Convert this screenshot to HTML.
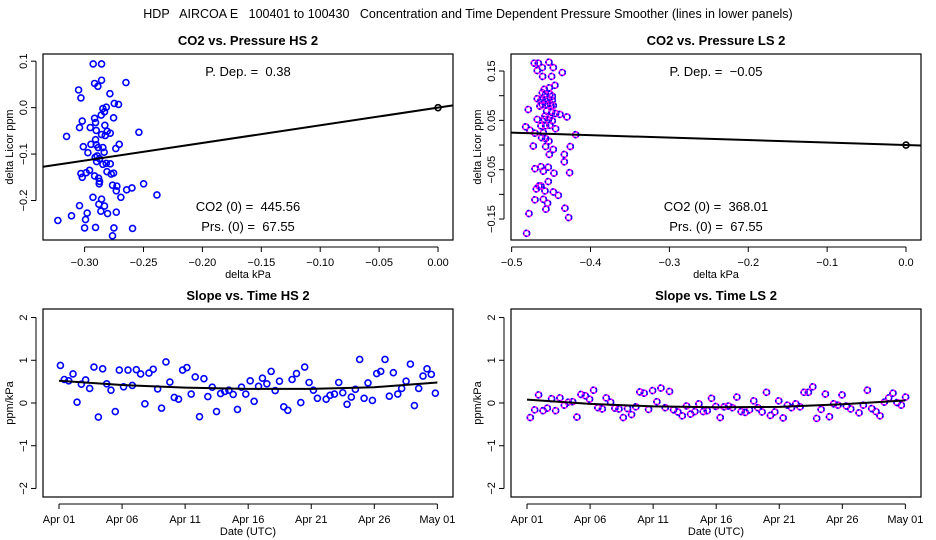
<!DOCTYPE html>
<html><head><meta charset="utf-8"><style>
body{margin:0;background:#fff;}
svg{display:block;font-family:"Liberation Sans",sans-serif;}
text{white-space:pre;}
</style></head><body>
<svg id="chart" width="936" height="540" xmlns="http://www.w3.org/2000/svg">
<rect width="936" height="540" fill="#fff"/>
<text x="468" y="18" text-anchor="middle" font-size="12.5" xml:space="preserve">HDP   AIRCOA E   100401 to 100430   Concentration and Time Dependent Pressure Smoother (lines in lower panels)</text>
</svg>
<script>
// ---- Panel data ----
const hsKpa=[-0.2927,-0.2856,-0.2915,-0.2887,-0.2856,-0.2649,-0.3051,-0.3031,-0.2785,-0.2748,-0.2712,-0.2816,-0.2845,-0.2831,-0.2859,-0.2754,-0.2915,-0.3020,-0.2907,-0.2828,-0.3043,-0.2952,-0.2901,-0.2808,-0.2539,-0.2782,-0.2856,-0.2825,-0.3153,-0.2907,-0.2946,-0.2706,-0.2901,-0.3011,-0.2884,-0.2845,-0.2735,-0.2834,-0.2972,-0.2893,-0.2910,-0.2873,-0.2898,-0.2845,-0.2782,-0.2816,-0.2810,-0.2774,-0.2754,-0.2958,-0.2986,-0.3031,-0.3020,-0.2915,-0.2881,-0.2873,-0.2876,-0.2763,-0.2726,-0.2731,-0.2643,-0.2598,-0.2499,-0.2386,-0.2692,-0.2929,-0.2856,-0.3043,-0.2879,-0.2831,-0.2862,-0.2978,-0.2805,-0.2731,-0.3111,-0.2992,-0.3227,-0.3000,-0.2907,-0.2751,-0.2593,-0.2763];
const hsPpm=[0.094,0.094,0.052,0.046,0.059,0.054,0.038,0.021,0.030,0.009,0.007,0.001,-0.002,-0.009,-0.016,-0.022,-0.023,-0.029,-0.032,-0.038,-0.043,-0.043,-0.049,-0.051,-0.053,-0.055,-0.058,-0.060,-0.062,-0.069,-0.079,-0.079,-0.080,-0.084,-0.086,-0.086,-0.088,-0.096,-0.097,-0.104,-0.107,-0.110,-0.116,-0.122,-0.121,-0.120,-0.138,-0.143,-0.141,-0.135,-0.140,-0.142,-0.150,-0.147,-0.152,-0.159,-0.164,-0.167,-0.169,-0.179,-0.177,-0.173,-0.164,-0.188,-0.193,-0.193,-0.197,-0.211,-0.208,-0.212,-0.223,-0.227,-0.228,-0.225,-0.233,-0.241,-0.243,-0.259,-0.258,-0.259,-0.260,-0.276];
const lsKpa=[-0.4713,-0.4662,-0.4527,-0.4611,-0.4472,-0.4675,-0.4358,-0.4607,-0.4493,-0.4451,-0.4522,-0.4611,-0.4569,-0.4514,-0.4484,-0.4675,-0.4628,-0.4577,-0.4535,-0.4484,-0.4611,-0.4556,-0.4510,-0.4472,-0.4789,-0.4556,-0.4493,-0.4442,-0.4577,-0.4514,-0.4387,-0.4298,-0.4675,-0.4586,-0.4535,-0.4484,-0.4628,-0.4569,-0.4514,-0.4822,-0.4442,-0.4768,-0.4704,-0.4598,-0.4188,-0.4620,-0.4569,-0.4527,-0.4725,-0.4569,-0.4256,-0.4472,-0.4522,-0.4332,-0.4332,-0.4704,-0.4628,-0.4598,-0.4535,-0.4463,-0.4265,-0.4535,-0.4628,-0.4687,-0.4653,-0.4577,-0.4472,-0.4408,-0.4704,-0.4598,-0.4544,-0.4565,-0.4324,-0.4780,-0.4277,-0.4810,-0.4641,-0.4586,-0.4501];
const lsPpm=[0.166,0.166,0.168,0.157,0.157,0.151,0.147,0.139,0.139,0.121,0.116,0.106,0.103,0.103,0.099,0.094,0.091,0.091,0.093,0.091,0.082,0.082,0.084,0.080,0.072,0.069,0.066,0.064,0.059,0.057,0.062,0.057,0.052,0.052,0.051,0.049,0.039,0.039,0.040,0.037,0.033,0.030,0.024,0.025,0.021,0.015,0.013,0.008,-0.002,-0.003,-0.003,-0.009,-0.019,-0.019,-0.034,-0.048,-0.044,-0.053,-0.045,-0.057,-0.056,-0.074,-0.083,-0.089,-0.083,-0.093,-0.095,-0.102,-0.111,-0.110,-0.118,-0.130,-0.128,-0.139,-0.147,-0.179,0.079,0.113,0.079];
const hsPDep=0.38, lsPDep=-0.05;
const hsTimeDays=[0.11,0.42,0.77,1.11,1.43,1.77,2.11,2.43,2.77,3.12,3.46,3.78,4.12,4.46,4.78,5.12,5.47,5.81,6.13,6.47,6.81,7.13,7.47,7.82,8.13,8.48,8.79,9.14,9.48,9.80,10.14,10.48,10.80,11.14,11.49,11.80,12.15,12.49,12.81,13.15,13.47,13.81,14.15,14.47,14.81,15.16,15.47,15.82,16.13,16.48,16.82,17.14,17.48,17.82,18.14,18.48,18.83,19.17,19.48,19.83,20.17,20.49,21.18,21.49,21.84,22.18,22.50,22.84,23.18,23.50,23.84,24.19,24.50,24.85,25.19,25.51,25.85,26.19,26.51,26.86,27.17,27.52,27.86,28.18,28.52,28.86,29.18,29.52,29.84];
const hsSlope=[0.88,0.55,0.52,0.68,0.02,0.44,0.54,0.34,0.84,-0.33,0.80,0.45,0.30,-0.20,0.77,0.38,0.77,0.41,0.78,0.68,-0.02,0.70,0.79,0.33,-0.12,0.96,0.49,0.13,0.09,0.77,0.83,0.21,0.61,-0.32,0.57,0.15,0.37,-0.20,0.22,0.27,0.30,0.20,-0.15,0.37,0.21,0.52,0.04,0.39,0.58,0.45,0.74,0.29,0.51,-0.09,-0.17,0.55,0.69,0.01,0.84,0.48,0.30,0.11,0.09,0.18,0.21,0.48,0.24,-0.03,0.14,0.32,1.02,0.11,0.47,0.06,0.69,0.74,1.02,0.16,0.71,0.21,0.34,0.51,0.91,-0.06,0.34,0.63,0.80,0.67,0.23];
const lsTimeDays=[0.26,0.61,0.92,1.27,1.61,1.95,2.27,2.61,2.96,3.27,3.62,3.96,4.28,4.62,4.96,5.28,5.62,5.97,6.28,6.63,6.97,7.29,7.63,7.97,8.29,8.63,8.95,9.29,9.64,9.96,10.30,10.62,10.96,11.30,11.62,11.96,12.31,12.65,12.97,13.31,13.63,13.97,14.29,14.63,14.97,15.32,15.63,15.98,16.29,16.64,16.98,17.30,17.64,17.98,18.30,18.64,18.99,19.30,19.65,19.96,20.31,20.65,20.97,21.31,21.65,21.97,22.31,22.66,22.97,23.32,23.66,23.98,24.32,24.66,24.98,25.32,25.67,26.33,26.67,26.99,27.33,27.67,27.99,28.33,28.68,29.02,29.34,29.68,30.02];
const lsSlope=[-0.34,-0.16,0.19,-0.18,-0.12,0.10,-0.18,0.12,-0.05,0.02,0.03,-0.33,0.20,0.17,0.09,0.30,-0.11,-0.14,0.12,0.02,-0.12,-0.14,-0.34,-0.13,-0.27,-0.09,0.26,0.23,-0.15,0.29,0.03,0.35,-0.11,0.27,-0.16,-0.21,-0.30,-0.07,-0.26,-0.20,-0.02,-0.20,-0.18,0.11,-0.08,-0.34,-0.09,-0.07,-0.11,0.14,-0.20,-0.22,-0.16,0.05,-0.11,-0.21,0.25,-0.29,-0.21,0.05,-0.35,-0.05,-0.11,-0.02,-0.09,0.25,0.25,0.38,-0.36,-0.15,0.21,-0.32,-0.02,-0.05,0.19,-0.07,-0.14,-0.23,-0.05,0.30,-0.13,-0.20,-0.30,0.02,0.12,0.23,0.01,-0.05,0.14];
const smoothDays=[0,5,10,15,20,25,30];
const hsSmooth=[0.52,0.42,0.36,0.33,0.33,0.37,0.48];
const lsSmooth=[0.08,-0.02,-0.08,-0.10,-0.09,-0.03,0.06];
const hsXTicks=[-0.30,-0.25,-0.20,-0.15,-0.10,-0.05,0.00];
const hsXTickLabels=["\u22120.30","\u22120.25","\u22120.20","\u22120.15","\u22120.10","\u22120.05","0.00"];
const hsYTicks=[-0.2,-0.1,0.0,0.1];
const hsYTickLabels=["\u22120.2","\u22120.1","0.0","0.1"];
const lsXTicks=[-0.5,-0.4,-0.3,-0.2,-0.1,0.0];
const lsXTickLabels=["\u22120.5","\u22120.4","\u22120.3","\u22120.2","\u22120.1","0.0"];
const lsYTicks=[-0.15,-0.10,-0.05,0.00,0.05,0.10,0.15];
const lsYTickLabels=["\u22120.15","","\u22120.05","","0.05","","0.15"];
const dateTicks=[0,5,10,15,20,25,30];
const dateTickLabels=["Apr 01","Apr 06","Apr 11","Apr 16","Apr 21","Apr 26","May 01"];
const slopeYTicks=[-2,-1,0,1,2];
const slopeYTickLabels=["\u22122","\u22121","0","1","2"];

const NS="http://www.w3.org/2000/svg";
const svg=document.getElementById('chart');
function el(tag,attrs,parent){const e=document.createElementNS(NS,tag);for(const k in attrs)e.setAttribute(k,attrs[k]);(parent||svg).appendChild(e);return e;}
function txt(s,attrs,parent){const t=el('text',attrs,parent);t.textContent=s;return t;}

function panel(o){
  const g=el('g',{});
  
  
  const L=o.box[0],T=o.box[1],R=o.box[2],B=o.box[3];
  const sx=v=>L+(v-o.xr[0])/(o.xr[1]-o.xr[0])*(R-L);
  const sy=v=>B-(v-o.yr[0])/(o.yr[1]-o.yr[0])*(B-T);
  const fr=el('rect',{x:L,y:T,width:R-L,height:B-T,fill:'none',stroke:'#000','stroke-width':1.2},g);
  
  
  const tt=txt(o.title,{x:(L+R)/2,y:T-9,'text-anchor':'middle','font-size':13,'font-weight':'bold'},g);
  
  
  const xa=el('g',{},g);
  
  
  const xs=o.xt.map(sx);
  el('line',{x1:xs[0],x2:xs[xs.length-1],y1:B+7,y2:B+7,stroke:'#000'},xa);
  o.xt.forEach((v,i)=>{const x=sx(v);el('line',{x1:x,x2:x,y1:B+7,y2:B+12,stroke:'#000'},xa);
    const t=txt(o.xl[i],{x:x,y:B+26,'text-anchor':'middle','font-size':11},xa);
    
    });
  const xt=txt(o.xlab,{x:(L+R)/2,y:B+38,'text-anchor':'middle','font-size':11},g);
  
  
  const ya=el('g',{},g);
  
  
  const ys=o.yt.map(sy);
  el('line',{x1:L-7,x2:L-7,y1:ys[0],y2:ys[ys.length-1],stroke:'#000'},ya);
  o.yt.forEach((v,i)=>{const y=sy(v);el('line',{x1:L-12,x2:L-7,y1:y,y2:y,stroke:'#000'},ya);
    if(o.yl[i]){const t=txt(o.yl[i],{x:L-16,y:y,'text-anchor':'middle','font-size':11,transform:`rotate(-90 ${L-16} ${y})`},ya);
    
    }});
  const yc=(T+B)/2;
  const yt=txt(o.ylab,{x:L-30,y:yc,'text-anchor':'middle','font-size':11,transform:`rotate(-90 ${L-30} ${yc})`},g);
  
  
  const clip='clip-'+o.name;
  const cp=el('clipPath',{id:clip},g);el('rect',{x:L,y:T,width:R-L,height:B-T},cp);
  const pg=el('g',{'clip-path':`url(#${clip})`},g);
  o.xs.forEach((v,i)=>{
    const c=el('circle',{cx:sx(v),cy:sy(o.ys[i]),r:3,fill:'none',stroke:o.color,'stroke-width':1.6},pg);
    
    
    if(o.color2) el('circle',{cx:sx(v),cy:sy(o.ys[i]),r:3,fill:'none',stroke:o.color2,'stroke-width':1.6,'stroke-dasharray':'2 2'},pg);
  });
  if(o.line){const pts=o.line[0].map((v,i)=>sx(v)+','+sy(o.line[1][i])).join(' ');
    const pl=el('polyline',{points:pts,fill:'none',stroke:'#000','stroke-width':2},pg);
    
    }
  if(o.origin){const c=el('circle',{cx:sx(0),cy:sy(0),r:3,fill:'none',stroke:'#000','stroke-width':1.6},pg);
    
    }
  (o.notes||[]).forEach(n=>{const t=txt(n[0],{x:(L+R)/2,y:n[1],'text-anchor':'middle','font-size':13},g);
    
    });
  return {sx,sy};
}
function fitLine(xr,p){return [[xr[0],xr[1]],[xr[0]*p,xr[1]*p]];}
const hsXr=[-0.3353,0.0127], lsXr=[-0.5008,0.019];
panel({name:'co2-vs-pressure-hs',box:[43,54,453,240],xr:hsXr,yr:[-0.285,0.1155],xt:hsXTicks,xl:hsXTickLabels,yt:hsYTicks,yl:hsYTickLabels,
  title:'CO2 vs. Pressure HS 2',xlab:'delta kPa',ylab:'delta Licor ppm',xs:hsKpa,ys:hsPpm,color:'#0000ff',line:fitLine(hsXr,hsPDep),origin:true,
  notes:[['P. Dep. =  '+hsPDep.toFixed(2),76],['CO2 (0) =  445.56',211],['Prs. (0) =  67.55',231]]});
panel({name:'co2-vs-pressure-ls',box:[511,54,921,240],xr:lsXr,yr:[-0.1925,0.1845],xt:lsXTicks,xl:lsXTickLabels,yt:lsYTicks,yl:lsYTickLabels,
  title:'CO2 vs. Pressure LS 2',xlab:'delta kPa',ylab:'delta Licor ppm',xs:lsKpa,ys:lsPpm,color:'#ff00ff',color2:'#0000ff',line:fitLine(lsXr,lsPDep),origin:true,
  notes:[['P. Dep. =  \u22120.05',76],['CO2 (0) =  368.01',211],['Prs. (0) =  67.55',231]]});
panel({name:'slope-vs-time-hs',box:[43,309,453,497],xr:[-1.27,31.24],yr:[-2.2,2.2],xt:dateTicks,xl:dateTickLabels,yt:slopeYTicks,yl:slopeYTickLabels,
  title:'Slope vs. Time HS 2',xlab:'Date (UTC)',ylab:'ppm/kPa',xs:hsTimeDays,ys:hsSlope,color:'#0000ff',line:[smoothDays,hsSmooth]});
panel({name:'slope-vs-time-ls',box:[511,309,921,497],xr:[-1.27,31.24],yr:[-2.2,2.2],xt:dateTicks,xl:dateTickLabels,yt:slopeYTicks,yl:slopeYTickLabels,
  title:'Slope vs. Time LS 2',xlab:'Date (UTC)',ylab:'ppm/kPa',xs:lsTimeDays,ys:lsSlope,color:'#ff00ff',color2:'#0000ff',line:[smoothDays,lsSmooth]});
</script>
</body></html>
